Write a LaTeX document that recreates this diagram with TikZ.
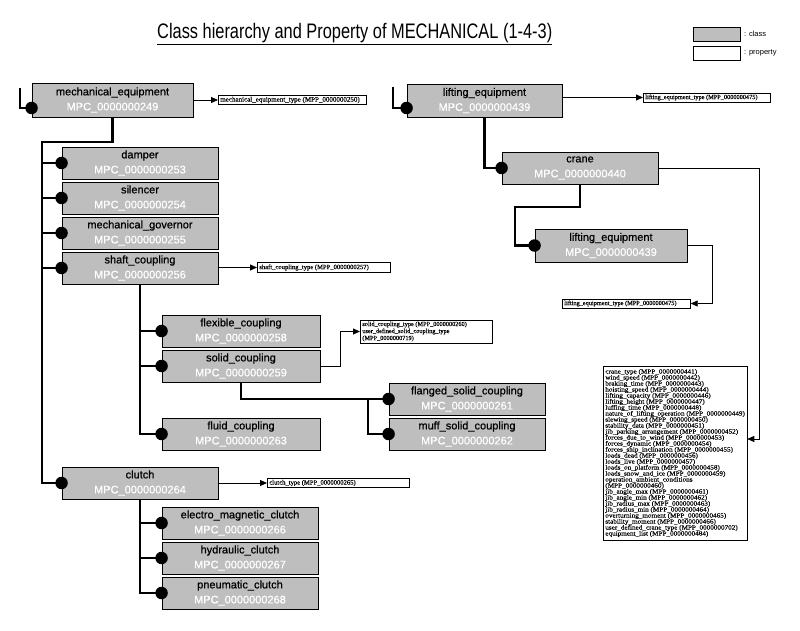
\documentclass[tikz,border=0pt]{standalone}
\usepackage{fontspec}
\setmainfont{Liberation Sans}
\newfontfamily\titlefont[FakeStretch=0.78]{Liberation Sans}
\newfontfamily\clsfont[FakeBold=0.6]{Liberation Sans}
\newfontfamily\propfont[FakeBold=0.3]{Liberation Serif}
\newfontfamily\listfont[FakeStretch=1.12,FakeBold=0.3]{Liberation Serif}
\usetikzlibrary{arrows.meta,calc,shadows}
\definecolor{clsgray}{RGB}{190,190,190}
\newcommand\clstext[2]{#1\\\textcolor{white}{#2}}
\newcommand\pl[2]{\makebox[#1][l]{#2}}
\begin{document}
\begin{tikzpicture}[x=1pt,y=-1pt,
 cls/.style={rectangle, fill=clsgray, draw=black, line width=0.9pt, inner sep=0pt, align=center, font=\clsfont\fontsize{11}{15}\selectfont,
   drop shadow={shadow xshift=1.2pt, shadow yshift=-1.2pt, fill=black!75, opacity=1}},
 prop/.style={rectangle, fill=white, draw=black, line width=0.7pt, inner xsep=2pt, inner ysep=0.5pt, anchor=west, align=left, font=\propfont\fontsize{6.6}{7}\selectfont},
 legbox/.style={rectangle, draw=black, line width=0.7pt, minimum width=47pt, minimum height=14pt, inner sep=0pt},
 legtext/.style={anchor=west, inner sep=0pt, font=\fontsize{7.5}{8}\selectfont},
 dot/.style={circle, fill=black, inner sep=0pt, minimum size=12.5pt},
 hier/.style={line width=2.4pt},
 parrow/.style={line width=0.8pt, -{Triangle[length=7pt,width=6pt]}},
]
\fill[white] (0,0) rectangle (800,631);
\useasboundingbox (0,0) rectangle (800,631);

% title and legend
\node[anchor=base west, inner sep=0pt, font=\titlefont\fontsize{21}{24}\selectfont] (title) at (157,39) {Class hierarchy and Property of MECHANICAL (1-4-3)};
\draw[line width=0.9pt] ($(title.base west)+(0,5)$) -- ($(title.base east)+(0,5)$);
\node[legbox, fill=clsgray] (lgc) at (716.5,34) {};
\node[legbox, fill=white] (lgp) at (716.5,53) {};
\node[legtext] (lgct) at (744,34) {: class};
\node[legtext] (lgpt) at (744,53) {: property};

% left hierarchy classes
\node[cls, minimum width=161pt, minimum height=34pt] (me) at (112.5,100) {\clstext{mechanical\_equipment}{MPC\_0000000249}};
\node[cls, minimum width=156pt, minimum height=32pt] (damper) at (140,163) {\clstext{damper}{MPC\_0000000253}};
\node[cls, minimum width=156pt, minimum height=32pt] (sil) at (140,198) {\clstext{silencer}{MPC\_0000000254}};
\node[cls, minimum width=156pt, minimum height=32pt] (gov) at (140,233) {\clstext{mechanical\_governor}{MPC\_0000000255}};
\node[cls, minimum width=156pt, minimum height=32pt] (sc) at (140,268) {\clstext{shaft\_coupling}{MPC\_0000000256}};
\node[cls, minimum width=158pt, minimum height=32pt] (flex) at (241,331) {\clstext{flexible\_coupling}{MPC\_0000000258}};
\node[cls, minimum width=158pt, minimum height=32pt] (solid) at (241,366) {\clstext{solid\_coupling}{MPC\_0000000259}};
\node[cls, minimum width=158pt, minimum height=32pt] (fluid) at (241,434) {\clstext{fluid\_coupling}{MPC\_0000000263}};
\node[cls, minimum width=156pt, minimum height=32pt] (flanged) at (467,399) {\clstext{flanged\_solid\_coupling}{MPC\_0000000261}};
\node[cls, minimum width=156pt, minimum height=32pt] (muff) at (467,434) {\clstext{muff\_solid\_coupling}{MPC\_0000000262}};
\node[cls, minimum width=156pt, minimum height=32pt] (clutch) at (140,483) {\clstext{clutch}{MPC\_0000000264}};
\node[cls, minimum width=156pt, minimum height=32pt] (elec) at (240,523) {\clstext{electro\_magnetic\_clutch}{MPC\_0000000266}};
\node[cls, minimum width=156pt, minimum height=32pt] (hyd) at (240,558) {\clstext{hydraulic\_clutch}{MPC\_0000000267}};
\node[cls, minimum width=156pt, minimum height=32pt] (pneu) at (240,593) {\clstext{pneumatic\_clutch}{MPC\_0000000268}};

% right hierarchy classes
\node[cls, minimum width=155pt, minimum height=33pt] (le) at (484.5,100.5) {\clstext{lifting\_equipment}{MPC\_0000000439}};
\node[cls, minimum width=156pt, minimum height=32pt] (crane) at (580,168) {\clstext{crane}{MPC\_0000000440}};
\node[cls, minimum width=152pt, minimum height=33pt] (le2) at (611,245.5) {\clstext{lifting\_equipment}{MPC\_0000000439}};

% properties
\node[prop, minimum height=9.5pt, font=\propfont\fontsize{7}{7}\selectfont] (pme) at (218,100) {\pl{144pt}{mechanical\_equipment\_type (MPP\_0000000250)}};
\node[prop, minimum height=9.5pt] (psc) at (257,267.5) {\pl{129pt}{shaft\_coupling\_type (MPP\_0000000257)}};
\node[prop, minimum height=23pt, font=\propfont\fontsize{6.3}{7}\selectfont] (psolid) at (360,331.5) {\pl{128pt}{solid\_coupling\_type (MPP\_0000000260)}\\\pl{128pt}{user\_defined\_solid\_coupling\_type}\\\pl{128pt}{(MPP\_0000000719)}};
\node[prop, minimum height=9.5pt] (pclutch) at (267,483) {\pl{138pt}{clutch\_type (MPP\_0000000265)}};
\node[prop, minimum height=9pt, font=\propfont\fontsize{6.3}{7}\selectfont] (ple) at (643,97.5) {\pl{123pt}{lifting\_equipment\_type (MPP\_0000000475)}};
\node[prop, minimum height=9pt, font=\propfont\fontsize{6.3}{7}\selectfont] (ple2) at (562,303.5) {\pl{124pt}{lifting\_equipment\_type (MPP\_0000000475)}};
\node[prop, minimum width=135pt, minimum height=174pt, font=\listfont\fontsize{6.4}{6}\selectfont] (plist) at (603,453) {\pl{131pt}{crane\_type (MPP\_0000000441)}\\
wind\_speed (MPP\_0000000442)\\
braking\_time (MPP\_0000000443)\\
hoisting\_speed (MPP\_0000000444)\\
lifting\_capacity (MPP\_0000000446)\\
lifting\_height (MPP\_0000000447)\\
luffing\_time (MPP\_0000000448)\\
nature\_of\_lifting\_operation (MPP\_0000000449)\\
slewing\_speed (MPP\_0000000450)\\
stability\_data (MPP\_0000000451)\\
jib\_parking\_arrangement (MPP\_0000000452)\\
forces\_due\_to\_wind (MPP\_0000000453)\\
forces\_dynamic (MPP\_0000000454)\\
forces\_ship\_inclination (MPP\_0000000455)\\
loads\_dead (MPP\_0000000456)\\
loads\_live (MPP\_0000000457)\\
loads\_on\_platform (MPP\_0000000458)\\
loads\_snow\_and\_ice (MPP\_0000000459)\\
operation\_ambient\_conditions\\
(MPP\_0000000460)\\
jib\_angle\_max (MPP\_0000000461)\\
jib\_angle\_min (MPP\_0000000462)\\
jib\_radius\_max (MPP\_0000000463)\\
jib\_radius\_min (MPP\_0000000464)\\
overturning\_moment (MPP\_0000000465)\\
stability\_moment (MPP\_0000000466)\\
user\_defined\_crane\_type (MPP\_0000000702)\\
equipment\_list (MPP\_0000000484)};

% dots
\node[dot] (dme) at ($(me.west)+(0,8)$) {};
\node[dot] (ddamper) at (damper.west) {};
\node[dot] (dsil) at (sil.west) {};
\node[dot] (dgov) at (gov.west) {};
\node[dot] (dsc) at (sc.west) {};
\node[dot] (dflex) at (flex.west) {};
\node[dot] (dsolid) at (solid.west) {};
\node[dot] (dfluid) at (fluid.west) {};
\node[dot] (dflanged) at (flanged.west) {};
\node[dot] (dmuff) at (muff.west) {};
\node[dot] (dclutch) at (clutch.west) {};
\node[dot] (delec) at (elec.west) {};
\node[dot] (dhyd) at (hyd.west) {};
\node[dot] (dpneu) at (pneu.west) {};
\node[dot] (dle) at ($(le.west)+(0,7.5)$) {};
\node[dot] (dcrane) at (crane.west) {};
\node[dot] (dle2) at (le2.west) {};

% hierarchy connectors
\coordinate (lme) at (20,88);
\coordinate (tA) at (42,142);
\coordinate (sj) at (368,399);
\coordinate (lle) at (393,87);
\coordinate (cj) at (515,207);
\draw[hier] (lme) |- (dme.center);
\draw[hier] (me.south) |- (tA) |- (dclutch.center);
\foreach \d in {ddamper,dsil,dgov,dsc} \draw[hier] (tA |- \d) -- (\d.center);
\draw[hier] (sc.south) |- (dfluid.center);
\foreach \d in {dflex,dsolid} \draw[hier] (sc.south |- \d) -- (\d.center);
\draw[hier] (solid.south) |- (dflanged.center);
\draw[hier] (sj) |- (dmuff.center);
\draw[hier] (clutch.south) |- (dpneu.center);
\foreach \d in {delec,dhyd} \draw[hier] (clutch.south |- \d) -- (\d.center);
\draw[hier] (lle) |- (dle.center);
\draw[hier] (le.south) |- (dcrane.center);
\draw[hier] (crane.south) |- (cj) |- (dle2.center);

% property connectors
\coordinate (ce2) at (712,303.5);
\coordinate (ccr) at (759,439);
\draw[parrow] (me.east) -- (me.east -| pme.west);
\draw[parrow] (sc.east |- psc.west) -- (psc.west);
\draw[parrow] (solid.east) -- ++(20,0) |- (psolid.west);
\draw[parrow] (clutch.east) -- (clutch.east -| pclutch.west);
\draw[parrow] (le.east |- ple.west) -- (ple.west);
\draw[parrow] (le2.east) -| (ce2) -- (ce2 -| ple2.east);
\draw[parrow] (crane.east) -| (ccr) -- (ccr -| plist.east);
\end{tikzpicture}
\end{document}
